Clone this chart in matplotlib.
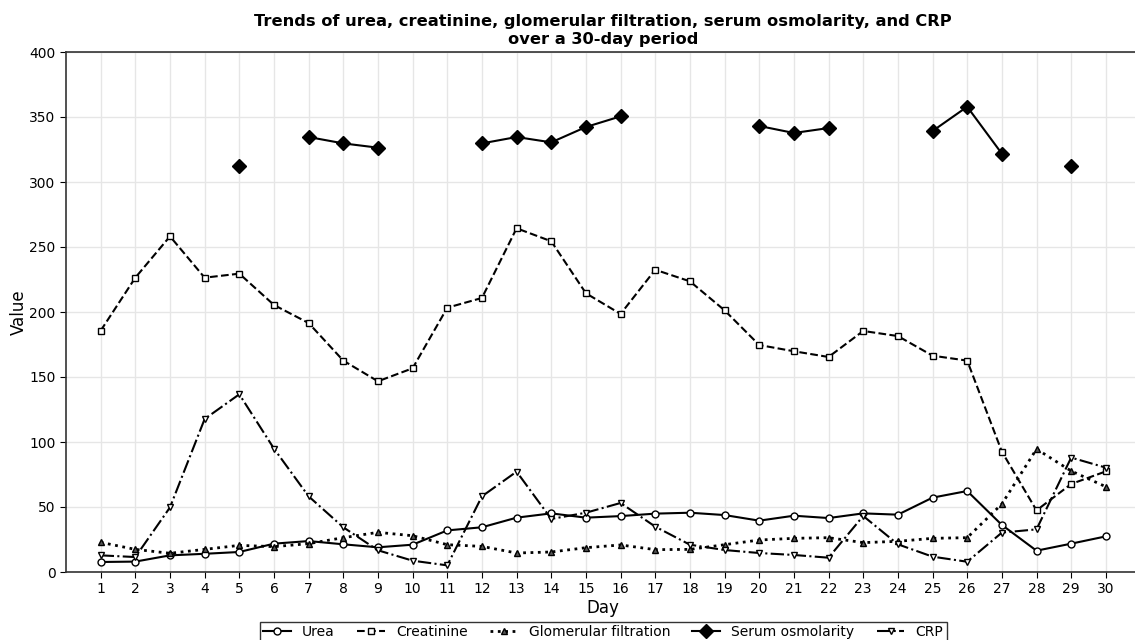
import numpy as np
import matplotlib
matplotlib.use("Agg")
import matplotlib.pyplot as plt

days = list(range(1, 31))

urea = [7.7, 8, 12.8, 14, 15.4, 21.8, 23.8, 21.3, 19, 21, 32, 34.4, 41.8, 45.1, 41.8,
        43, 44.9, 45.6, 43.8, 39.5, 43.3, 41.5, 45.1, 44.1, 57.2, 62.3, 36.2, 16.4, 21.8, 27.4]
creatinine = [185.6, 226.4, 258.2, 226.4, 229.5, 205.4, 191.5, 162.6, 146.7, 156.7,
              203.3, 210.8, 264.4, 254.4, 214.4, 198.5, 232.5, 223.6, 201.3, 174.6,
              169.8, 165.4, 185.4, 181.5, 166.4, 162.6, 92.6, 47.4, 67.7, 77.4]
gfr = [22.8, 17.4, 14.4, 17.4, 20.5, 19.5, 21.8, 26.4, 30.5, 27.9, 21, 19.7, 14.6, 15.4,
       18.7, 20.8, 17.2, 17.4, 21, 24.6, 25.9, 26.4, 22.6, 23.6, 25.9, 26.4, 52.3, 94.6,
       77.7, 65.6]
nan = np.nan
osmolarity = [nan, nan, nan, nan, 312.3, nan, 334.6, 329.7, 326.4, nan, nan, 329.7, 334.6,
              330.5, 342.3, 350.5, nan, nan, nan, 343.1, 337.7, 341.5, nan, nan, 339.2,
              357.9, 321.8, nan, 312.6, nan]
crp = [12.8, 11.5, 49.7, 117.7, 136.7, 94.9, 58.2, 34.4, 16.7, 8.7, 5.1, 58.2, 77.2, 40.8,
       45.6, 53.1, 34.9, 21, 16.9, 14.6, 13.1, 11, 43.1, 21.3, 11.8, 7.9, 30.3, 32.8, 88, 80.3]

fig = plt.figure(figsize=(11.35, 6.4), dpi=100)
ax = fig.add_axes([66/1135, 68/640, 1074.5/1135, 520/640])

ax.plot(days, urea, color='black', ls='-', lw=1.5, marker='o', ms=5,
        mfc='white', mec='black', label='Urea')
ax.plot(days, creatinine, color='black', ls='--', lw=1.5, marker='s', ms=5,
        mfc='white', mec='black', label='Creatinine')
ax.plot(days, gfr, color='black', ls=':', lw=2, marker='^', ms=5,
        mfc='#555555', mec='black', label='Glomerular filtration')
ax.plot(days, osmolarity, color='black', ls='-', lw=1.5, marker='D', ms=7,
        mfc='black', mec='black', label='Serum osmolarity')
ax.plot(days, crp, color='black', ls='-.', lw=1.5, marker='v', ms=5,
        mfc='white', mec='black', label='CRP')

ax.set_xlim(0, 31)
ax.set_ylim(0, 400)
ax.set_xticks(days)
ax.set_yticks(range(0, 401, 50))
ax.tick_params(labelsize=10, length=4)
ax.grid(True, color='#e6e6e6', lw=1)
ax.set_axisbelow(True)
for s in ax.spines.values():
    s.set_linewidth(1.2)
    s.set_color('#333333')

ax.set_xlabel('Day', fontsize=12, labelpad=2)
ax.set_ylabel('Value', fontsize=12, labelpad=1)
ax.set_title('Trends of urea, creatinine, glomerular filtration, serum osmolarity, and CRP\nover a 30-day period',
             fontsize=11.7, fontweight='bold', pad=6)

leg = ax.legend(loc='upper center', bbox_to_anchor=(0.5, -0.082), ncol=5,
                fontsize=10, frameon=True, fancybox=False, edgecolor='black',
                handlelength=2.0, columnspacing=1.6, borderpad=0.25)
leg.get_frame().set_linewidth(1)

fig.savefig('out.png', dpi=100)
